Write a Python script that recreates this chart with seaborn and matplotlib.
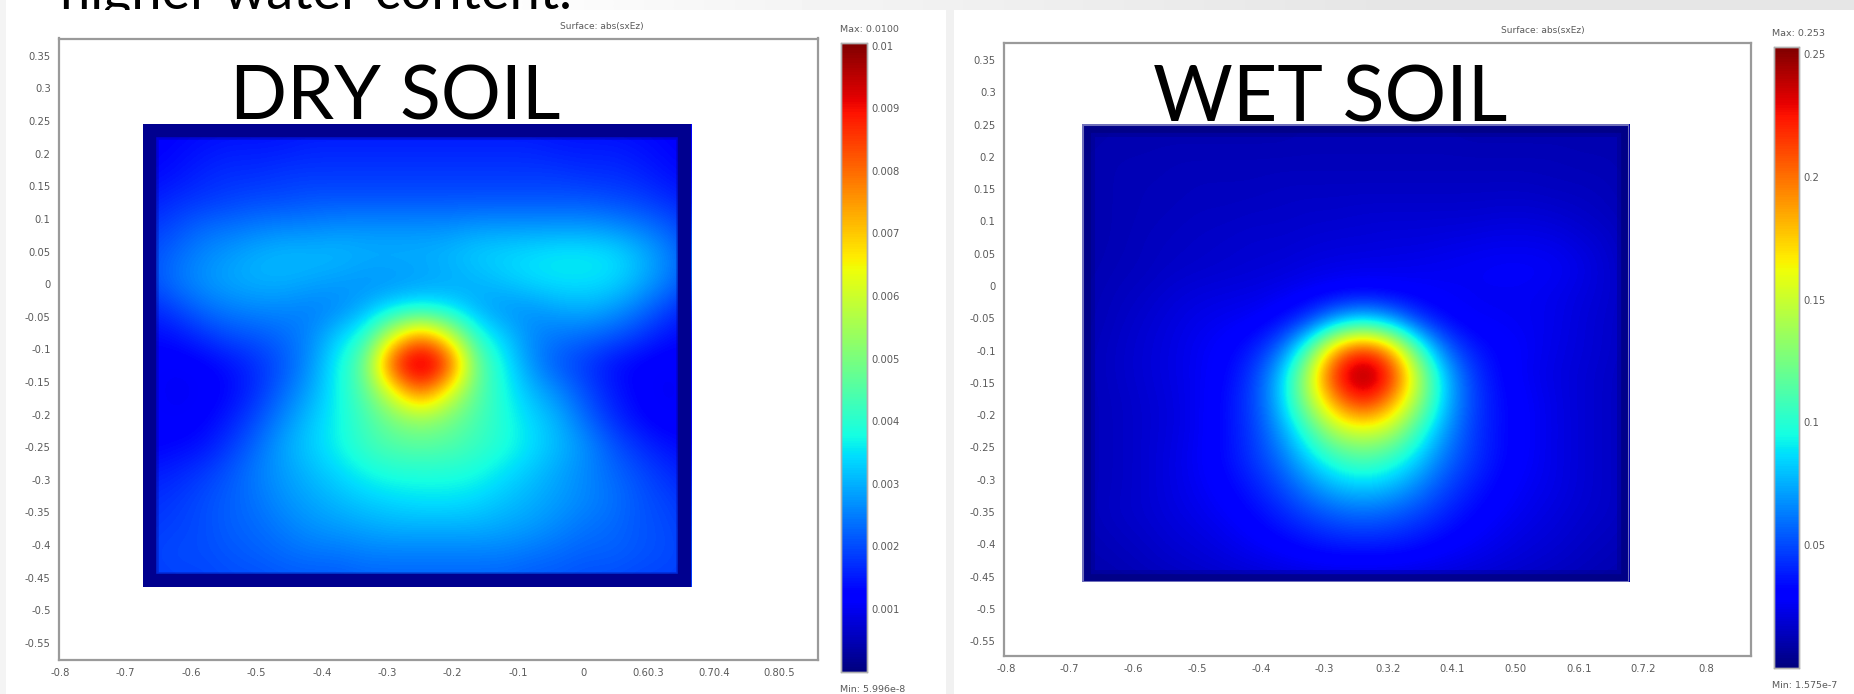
import numpy as np
import matplotlib
matplotlib.use("Agg")
import matplotlib.pyplot as plt
from matplotlib.patches import Rectangle
import seaborn as sns

# tick labels
y_ticks = [0.35, 0.3, 0.25, 0.2, 0.15, 0.1, 0.05, 0, -0.05, -0.1, -0.15, -0.2, -0.25, -0.3, -0.35, -0.4, -0.45, -0.5, -0.55]
y_labels = ['0.35', '0.3', '0.25', '0.2', '0.15', '0.1', '0.05', '0', '-0.05', '-0.1', '-0.15', '-0.2', '-0.25', '-0.3', '-0.35', '-0.4', '-0.45', '-0.5', '-0.55']
x_ticks = [-0.8, -0.7, -0.6, -0.5, -0.4, -0.3, -0.2, -0.1, 0, 0.1, 0.2, 0.3]
dry_x_labels = ['-0.8', '-0.7', '-0.6', '-0.5', '-0.4', '-0.3', '-0.2', '-0.1', '0', '0.60.3', '0.70.4', '0.80.5']
wet_x_labels = ['-0.8', '-0.7', '-0.6', '-0.5', '-0.4', '-0.3', '0.3.2', '0.4.1', '0.50', '0.6.1', '0.7.2', '0.8']

dry_cbar_ticks = [0.001, 0.002, 0.003, 0.004, 0.005, 0.006, 0.007, 0.008, 0.009, 0.01]
dry_cbar_labels = ['0.001', '0.002', '0.003', '0.004', '0.005', '0.006', '0.007', '0.008', '0.009', '0.01']
wet_cbar_ticks = [0.05, 0.1, 0.15, 0.2, 0.25]
wet_cbar_labels = ['0.05', '0.1', '0.15', '0.2', '0.25']

dry_field = [
    [1.1, 1.2, 1.3, 1.3, 1.3, 1.4, 1.4, 1.4, 1.4, 1.4, 1.4, 1.4, 1.4, 1.4, 1.4, 1.4, 1.3, 1.3, 1.3, 1.2, 1.1],
    [1.2, 1.3, 1.4, 1.5, 1.5, 1.5, 1.6, 1.6, 1.6, 1.6, 1.6, 1.6, 1.6, 1.6, 1.6, 1.5, 1.5, 1.5, 1.4, 1.3, 1.2],
    [1.3, 1.4, 1.6, 1.7, 1.7, 1.8, 1.8, 1.8, 1.8, 1.8, 1.8, 1.8, 1.8, 1.8, 1.8, 1.8, 1.7, 1.7, 1.6, 1.4, 1.3],
    [1.5, 1.7, 1.8, 1.9, 2.0, 2.0, 2.1, 2.1, 2.1, 2.1, 2.1, 2.1, 2.1, 2.1, 2.1, 2.1, 2.1, 2.0, 1.9, 1.7, 1.5],
    [1.8, 2.0, 2.3, 2.4, 2.5, 2.6, 2.6, 2.7, 2.7, 2.7, 2.7, 2.7, 2.8, 2.8, 2.8, 2.8, 2.8, 2.7, 2.5, 2.2, 1.8],
    [2.0, 2.3, 2.6, 2.8, 3.0, 3.1, 3.1, 3.1, 3.0, 3.0, 3.0, 3.1, 3.3, 3.4, 3.5, 3.6, 3.6, 3.5, 3.1, 2.6, 2.0],
    [2.0, 2.4, 2.7, 2.9, 3.0, 3.0, 2.9, 2.8, 2.7, 2.7, 2.8, 2.9, 3.0, 3.2, 3.4, 3.5, 3.5, 3.4, 3.0, 2.5, 2.0],
    [1.6, 1.9, 2.3, 2.5, 2.6, 2.6, 2.5, 2.6, 3.0, 3.5, 3.7, 3.5, 3.0, 2.7, 2.7, 2.9, 3.0, 2.8, 2.4, 1.9, 1.5],
    [1.3, 1.4, 1.7, 2.0, 2.1, 2.3, 2.6, 3.3, 4.0, 6.3, 8.0, 6.3, 4.0, 3.3, 2.6, 2.4, 2.3, 2.1, 1.8, 1.4, 1.3],
    [1.2, 1.1, 1.2, 1.4, 1.7, 2.1, 2.7, 3.7, 4.8, 8.9, 10.0, 8.9, 4.8, 3.7, 2.7, 2.1, 1.8, 1.4, 1.2, 1.1, 1.2],
    [1.2, 1.0, 1.1, 1.3, 1.7, 2.3, 2.9, 3.7, 4.6, 6.4, 8.3, 6.4, 4.7, 3.8, 3.1, 2.6, 2.0, 1.5, 1.2, 1.0, 1.2],
    [1.2, 1.1, 1.2, 1.5, 2.0, 2.6, 3.2, 3.7, 4.3, 5.0, 5.4, 5.0, 4.4, 3.9, 3.4, 3.0, 2.3, 1.7, 1.3, 1.1, 1.2],
    [1.2, 1.3, 1.4, 1.8, 2.3, 2.9, 3.3, 3.7, 4.2, 4.5, 4.6, 4.5, 4.2, 3.9, 3.5, 3.1, 2.7, 2.1, 1.7, 1.4, 1.3],
    [1.5, 1.6, 1.8, 2.1, 2.5, 2.8, 3.1, 3.4, 3.7, 3.9, 3.9, 3.9, 3.8, 3.5, 3.2, 2.9, 2.6, 2.3, 2.0, 1.7, 1.5],
    [1.7, 1.8, 2.0, 2.2, 2.4, 2.7, 2.9, 3.1, 3.3, 3.4, 3.5, 3.5, 3.4, 3.2, 3.0, 2.8, 2.6, 2.4, 2.1, 1.9, 1.7],
    [1.8, 1.9, 2.0, 2.2, 2.3, 2.5, 2.7, 2.8, 2.9, 3.0, 3.0, 3.0, 3.0, 2.9, 2.8, 2.6, 2.4, 2.3, 2.1, 2.0, 1.8],
    [1.9, 2.0, 2.0, 2.1, 2.2, 2.3, 2.4, 2.4, 2.5, 2.5, 2.5, 2.5, 2.5, 2.5, 2.4, 2.3, 2.2, 2.2, 2.1, 2.0, 1.9],
    [1.8, 1.9, 1.9, 2.0, 2.0, 2.1, 2.1, 2.1, 2.2, 2.2, 2.2, 2.2, 2.2, 2.2, 2.1, 2.1, 2.0, 2.0, 1.9, 1.9, 1.8],
]
wet_field = [
    [1.0, 1.1, 1.1, 1.1, 1.1, 1.1, 1.1, 1.1, 1.2, 1.2, 1.2, 1.2, 1.2, 1.2, 1.1, 1.1, 1.1, 1.1, 1.1, 1.1, 1.0],
    [1.1, 1.2, 1.2, 1.3, 1.3, 1.3, 1.3, 1.3, 1.3, 1.3, 1.3, 1.3, 1.3, 1.3, 1.3, 1.3, 1.3, 1.3, 1.2, 1.2, 1.1],
    [1.1, 1.2, 1.3, 1.3, 1.4, 1.4, 1.4, 1.5, 1.5, 1.5, 1.5, 1.5, 1.5, 1.5, 1.5, 1.5, 1.5, 1.4, 1.4, 1.3, 1.1],
    [1.1, 1.2, 1.3, 1.4, 1.5, 1.5, 1.6, 1.6, 1.7, 1.7, 1.8, 1.8, 1.8, 1.8, 1.8, 1.9, 1.9, 1.8, 1.6, 1.4, 1.2],
    [1.1, 1.2, 1.4, 1.5, 1.6, 1.7, 1.8, 1.8, 1.9, 2.0, 2.0, 2.1, 2.1, 2.2, 2.3, 2.4, 2.4, 2.3, 2.0, 1.7, 1.2],
    [1.1, 1.3, 1.4, 1.6, 1.7, 1.8, 1.9, 2.0, 2.2, 2.3, 2.4, 2.4, 2.5, 2.6, 2.7, 2.8, 2.8, 2.7, 2.3, 1.8, 1.3],
    [1.2, 1.4, 1.6, 1.9, 2.1, 2.2, 2.3, 2.5, 2.8, 3.1, 3.3, 3.1, 2.9, 2.7, 2.6, 2.6, 2.6, 2.4, 2.1, 1.8, 1.4],
    [1.2, 1.5, 1.8, 2.1, 2.4, 2.6, 2.8, 3.4, 4.8, 7.6, 9.1, 7.6, 4.8, 3.4, 2.8, 2.7, 2.6, 2.4, 2.0, 1.7, 1.4],
    [1.3, 1.6, 1.9, 2.2, 2.6, 3.0, 3.8, 5.8, 11.0, 19.0, 22.5, 19.0, 11.0, 5.8, 3.8, 3.1, 2.7, 2.3, 2.0, 1.7, 1.4],
    [1.3, 1.6, 1.9, 2.2, 2.6, 3.2, 4.6, 8.0, 14.5, 23.0, 25.3, 23.0, 14.5, 8.0, 4.6, 3.2, 2.6, 2.2, 1.9, 1.6, 1.3],
    [1.3, 1.5, 1.8, 2.1, 2.6, 3.4, 4.8, 8.0, 13.5, 19.0, 22.5, 19.0, 13.5, 8.0, 4.8, 3.4, 2.8, 2.3, 1.9, 1.6, 1.3],
    [1.3, 1.5, 1.8, 2.1, 2.6, 3.4, 4.6, 7.0, 10.5, 14.5, 15.5, 14.5, 10.5, 7.0, 4.6, 3.4, 2.8, 2.3, 1.9, 1.6, 1.3],
    [1.3, 1.5, 1.8, 2.2, 2.7, 3.4, 4.5, 6.0, 8.5, 10.5, 11.5, 10.5, 8.5, 6.0, 4.5, 3.4, 2.8, 2.3, 1.9, 1.6, 1.3],
    [1.3, 1.5, 1.8, 2.2, 2.6, 3.1, 3.9, 5.0, 6.6, 8.0, 8.5, 8.0, 6.6, 5.0, 3.9, 3.1, 2.6, 2.3, 1.9, 1.6, 1.3],
    [1.3, 1.6, 1.8, 2.1, 2.4, 2.8, 3.3, 4.1, 5.0, 5.7, 6.0, 5.7, 5.0, 4.1, 3.3, 2.8, 2.4, 2.1, 1.8, 1.6, 1.3],
    [1.2, 1.4, 1.6, 1.9, 2.1, 2.4, 2.8, 3.2, 3.7, 4.1, 4.2, 4.1, 3.7, 3.2, 2.8, 2.4, 2.1, 1.9, 1.6, 1.4, 1.2],
    [1.1, 1.2, 1.4, 1.6, 1.8, 2.0, 2.2, 2.4, 2.6, 2.7, 2.7, 2.7, 2.6, 2.4, 2.2, 2.0, 1.8, 1.6, 1.4, 1.2, 1.1],
    [0.9, 1.0, 1.1, 1.2, 1.3, 1.4, 1.5, 1.6, 1.6, 1.7, 1.7, 1.7, 1.6, 1.6, 1.5, 1.4, 1.3, 1.2, 1.1, 1.0, 0.9],
]

W, H = 1854, 694
TICK = '#5a5a5a'

sns.set_theme(style='white')
plt.rcParams['font.family'] = ['DejaVu Sans']


def px_box(x0, y0, x1, y1):
    return [x0 / W, 1 - y1 / H, (x1 - x0) / W, (y1 - y0) / H]


def draw_panel(frame, cbar_box, xlim, ylim, heat, view, field, vmax, cb_ticks, cb_labels, x_labels):
    ax = fig.add_axes(px_box(*frame))
    ax.set_xlim(*xlim)
    ax.set_ylim(*ylim)
    ax.set_xticks(x_ticks, x_labels)
    ax.set_yticks(y_ticks, y_labels)
    ax.tick_params(length=0, labelsize=7.2, labelcolor=TICK)
    ax.tick_params(axis='x', pad=6)
    ax.tick_params(axis='y', pad=6)
    for s in ax.spines.values():
        s.set_color('#9a9a9a')
        s.set_linewidth(1.6)

    # heat square sits in data coords on the frame axes
    hx0, hx1, hy0, hy1 = heat
    inset = ax.inset_axes([hx0, hy0, hx1 - hx0, hy1 - hy0], transform=ax.transData)
    cax = fig.add_axes(px_box(*cbar_box))
    sns.heatmap(field, ax=inset, cmap='jet', vmin=0, vmax=vmax, cbar_ax=cax, cbar_kws={'ticks': cb_ticks})
    # same grid and colour scale, smoothed as in the blurry screenshot
    rows, cols = field.shape
    inset.imshow(field, cmap='jet', vmin=0, vmax=vmax, interpolation='bicubic', aspect='auto',
                 extent=[0, cols, rows, 0], zorder=3)
    inset.set_xlim(view[0], view[1])
    inset.set_ylim(view[3], view[2])
    inset.set_axis_off()

    cax.set_yticks(cb_ticks, cb_labels)
    cax.tick_params(axis='y', direction='in', length=3, width=1, color='#1a1a1a', left=True, right=True,
                    labelsize=7.2, labelcolor=TICK, pad=3)
    for s in cax.spines.values():
        s.set_visible(True)
        s.set_color('#b0b0b0')
        s.set_linewidth(1)
    return ax, inset


fig = plt.figure(figsize=(W / 100, H / 100), dpi=100, facecolor='white')

# slide remains behind the two screenshots
band = fig.add_axes(px_box(0, 0, W, 10), zorder=-2)
band.imshow([[1.0, 1.0, 0.96, 0.93, 0.90, 0.90]], cmap='gray', vmin=0, vmax=1, aspect='auto',
            interpolation='bilinear', extent=[0, W, 10, 0])
band.set_axis_off()
band.text(60, 8.5, 'higher water content.', fontsize=39, family='Lato', color='black', va='baseline', clip_on=True)
fig.add_artist(Rectangle((0, 0), 6 / W, 1, color='#f4f4f4', lw=0, transform=fig.transFigure, zorder=-1))
fig.add_artist(Rectangle((946 / W, 0), 8 / W, 1 - 8 / H, color='#f1f1f1', lw=0, transform=fig.transFigure, zorder=-1))

ax1, heat1 = draw_panel((59, 38.5, 818, 659.5), (840.5, 43, 867, 671.5), (-0.802, 0.359), (-0.5754, 0.3765),
                        (-0.674, 0.165, -0.4637, 0.2456), (0.38, 20.38, 0.7, 17.7),
                        np.array(dry_field) * 0.001, 0.01004, dry_cbar_ticks, dry_cbar_labels, dry_x_labels)
ax2, heat2 = draw_panel((1004, 42.5, 1751, 656), (1773.5, 47, 1799, 667.5), (-0.803, 0.3695), (-0.573, 0.377),
                        (-0.681, 0.178, -0.4589, 0.2508), (0.24, 20.24, 0.13, 17.12),
                        np.array(wet_field) * 0.01, 0.253, wet_cbar_ticks, wet_cbar_labels, wet_x_labels)

# dark edge band round the soil square, line is centred on the edge and clipped to half
for lw, a in [(22, 0.35), (19, 1.0)]:
    heat1.add_patch(Rectangle((0, 0), 1, 1, transform=heat1.transAxes, fill=False, ec='#00008f', lw=lw, alpha=a, zorder=5))
for lw, a in [(18, 0.35), (12, 0.7)]:
    heat2.add_patch(Rectangle((0, 0), 1, 1, transform=heat2.transAxes, fill=False, ec='#00007f', lw=lw, alpha=a, zorder=5))
heat2.add_patch(Rectangle((0, 0), 1, 1, transform=heat2.transAxes, fill=False, ec='#8c8cc8', lw=2.2, alpha=0.8, zorder=6))

# headers and min/max notes as on the screenshots
fig.text(602 / W, 1 - 26.5 / H, 'Surface: abs(sxEz)', fontsize=6.5, color=TICK, ha='center', va='center')
fig.text(1543 / W, 1 - 31 / H, 'Surface: abs(sxEz)', fontsize=6.5, color=TICK, ha='center', va='center')
fig.text(840 / W, 1 - 29 / H, 'Max: 0.0100', fontsize=6.8, color=TICK, va='center')
fig.text(1772 / W, 1 - 33 / H, 'Max: 0.253', fontsize=6.8, color=TICK, va='center')
fig.text(840 / W, 1 - 689 / H, 'Min: 5.996e-8', fontsize=6.8, color=TICK, va='center')
fig.text(1772 / W, 1 - 686 / H, 'Min: 1.575e-7', fontsize=6.8, color=TICK, va='center')

fig.text(395 / W, 1 - 120 / H, 'DRY SOIL', fontsize=54, family='Lato', color='black', ha='center', va='baseline')
fig.text(1330 / W, 1 - 122 / H, 'WET SOIL', fontsize=55.5, family='Lato', color='black', ha='center', va='baseline')

fig.savefig('out.png', dpi=100)
